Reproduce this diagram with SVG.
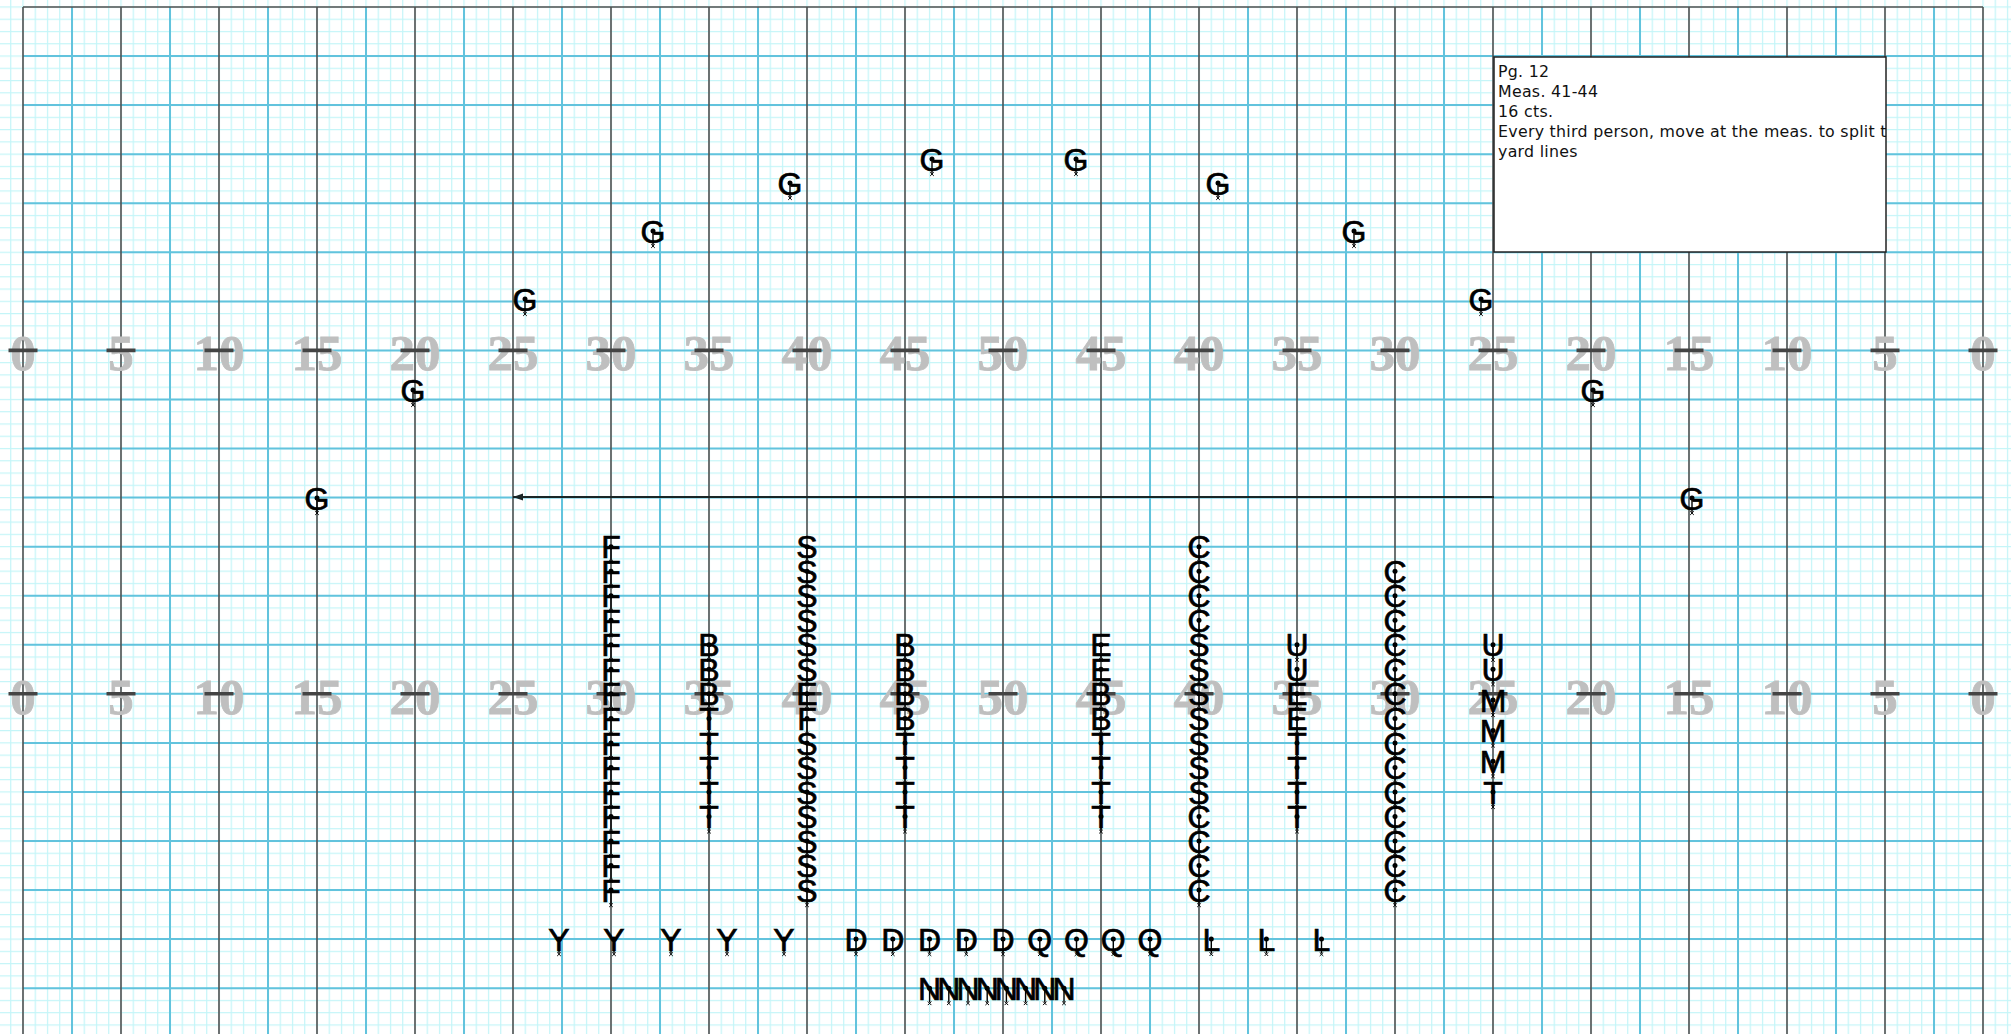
<svg xmlns="http://www.w3.org/2000/svg" xmlns:xlink="http://www.w3.org/1999/xlink" width="2011" height="1034" viewBox="0 0 2011 1034">
<style>
.lt{font-family:"Liberation Sans",Arial,sans-serif;font-size:32px;text-anchor:middle;fill:#000;stroke:#000;stroke-width:0.7}
.yn{font-family:"Liberation Serif","Times New Roman",serif;font-weight:bold;font-size:51px;fill:#bfbfbf;text-anchor:middle;stroke:#bfbfbf;stroke-width:0.8}
.note{font-family:"DejaVu Sans","Liberation Sans",sans-serif;font-size:15.8px;letter-spacing:0.28px;fill:#111}
.yd{stroke:#505050;stroke-width:1.6}
.bl{stroke:#62c3dd;stroke-width:2}
.hash{stroke:#444;stroke-width:3.6}
</style>
<defs>
<pattern id="minor" x="22.4" y="6.4" width="12.25" height="12.265" patternUnits="userSpaceOnUse">
<path d="M0,0.6H12.25M0.6,0V12.265" stroke="#c4f5f8" stroke-width="1.2" fill="none"/>
</pattern>
<g id="pin">
<line x1="0" y1="0" x2="0" y2="14" stroke="#000" stroke-width="1.4"/>
<circle r="2.5" fill="#000"/>
<path d="M-1.8,13.3L1.8,16.9M1.8,13.3L-1.8,16.9" stroke="#000" stroke-width="1"/>
</g>
<marker id="ah" markerWidth="12" markerHeight="8" refX="10" refY="3.5" orient="auto" markerUnits="userSpaceOnUse">
<path d="M0,0L10,3.5L0,7Z" fill="#1a2626"/>
</marker>
<clipPath id="boxclip"><rect x="1494" y="57" width="392" height="195"/></clipPath>
</defs>

<g id="field">
<rect x="0" y="0" width="2011" height="1034" fill="#fff"/>
<rect x="0" y="0" width="2011" height="1034" fill="url(#minor)"/>
<path class="bl" d="M72,7V1034M170,7V1034M268,7V1034M366,7V1034M464,7V1034M562,7V1034M660,7V1034M758,7V1034M856,7V1034M954,7V1034M1052,7V1034M1150,7V1034M1248,7V1034M1346,7V1034M1444,7V1034M1542,7V1034M1640,7V1034M1738,7V1034M1836,7V1034M1934,7V1034"/>
<path class="bl" d="M23,56.1H1983M23,105.1H1983M23,154.2H1983M23,203.2H1983M23,252.3H1983M23,301.4H1983M23,350.4H1983M23,399.5H1983M23,448.5H1983M23,497.6H1983M23,546.7H1983M23,595.7H1983M23,644.8H1983M23,693.8H1983M23,742.9H1983M23,791.9H1983M23,841H1983M23,890.1H1983M23,939.1H1983M23,988.2H1983"/>
<path class="yd" d="M23,7V1034M121,7V1034M219,7V1034M317,7V1034M415,7V1034M513,7V1034M611,7V1034M709,7V1034M807,7V1034M905,7V1034M1003,7V1034M1101,7V1034M1199,7V1034M1297,7V1034M1395,7V1034M1493,7V1034M1591,7V1034M1689,7V1034M1787,7V1034M1885,7V1034M1983,7V1034M23,7H1983"/>
</g>

<g id="yard-numbers">
<text class="yn" x="23" y="370">0</text><text class="yn" x="121" y="370">5</text><text class="yn" x="219" y="370">10</text><text class="yn" x="317" y="370">15</text><text class="yn" x="415" y="370">20</text><text class="yn" x="513" y="370">25</text><text class="yn" x="611" y="370">30</text><text class="yn" x="709" y="370">35</text><text class="yn" x="807" y="370">40</text><text class="yn" x="905" y="370">45</text><text class="yn" x="1003" y="370">50</text><text class="yn" x="1101" y="370">45</text><text class="yn" x="1199" y="370">40</text><text class="yn" x="1297" y="370">35</text><text class="yn" x="1395" y="370">30</text><text class="yn" x="1493" y="370">25</text><text class="yn" x="1591" y="370">20</text><text class="yn" x="1689" y="370">15</text><text class="yn" x="1787" y="370">10</text><text class="yn" x="1885" y="370">5</text><text class="yn" x="1983" y="370">0</text>
<text class="yn" x="23" y="714">0</text><text class="yn" x="121" y="714">5</text><text class="yn" x="219" y="714">10</text><text class="yn" x="317" y="714">15</text><text class="yn" x="415" y="714">20</text><text class="yn" x="513" y="714">25</text><text class="yn" x="611" y="714">30</text><text class="yn" x="709" y="714">35</text><text class="yn" x="807" y="714">40</text><text class="yn" x="905" y="714">45</text><text class="yn" x="1003" y="714">50</text><text class="yn" x="1101" y="714">45</text><text class="yn" x="1199" y="714">40</text><text class="yn" x="1297" y="714">35</text><text class="yn" x="1395" y="714">30</text><text class="yn" x="1493" y="714">25</text><text class="yn" x="1591" y="714">20</text><text class="yn" x="1689" y="714">15</text><text class="yn" x="1787" y="714">10</text><text class="yn" x="1885" y="714">5</text><text class="yn" x="1983" y="714">0</text>
</g>
<g id="hash-marks">
<path class="hash" d="M8.5,350.4h29M106.5,350.4h29M204.5,350.4h29M302.5,350.4h29M400.5,350.4h29M498.5,350.4h29M596.5,350.4h29M694.5,350.4h29M792.5,350.4h29M890.5,350.4h29M988.5,350.4h29M1086.5,350.4h29M1184.5,350.4h29M1282.5,350.4h29M1380.5,350.4h29M1478.5,350.4h29M1576.5,350.4h29M1674.5,350.4h29M1772.5,350.4h29M1870.5,350.4h29M1968.5,350.4h29"/>
<path class="hash" d="M8.5,693.8h29M106.5,693.8h29M204.5,693.8h29M302.5,693.8h29M400.5,693.8h29M498.5,693.8h29M596.5,693.8h29M694.5,693.8h29M792.5,693.8h29M890.5,693.8h29M988.5,693.8h29M1086.5,693.8h29M1184.5,693.8h29M1282.5,693.8h29M1380.5,693.8h29M1478.5,693.8h29M1576.5,693.8h29M1674.5,693.8h29M1772.5,693.8h29M1870.5,693.8h29M1968.5,693.8h29"/>
</g>

<g id="note-box">
<rect x="1494" y="57" width="392" height="195" fill="#fff" stroke="#222" stroke-width="1.5"/>
<g clip-path="url(#boxclip)">
<text class="note" x="1498" y="76.7">Pg. 12</text>
<text class="note" x="1498" y="96.7">Meas. 41-44</text>
<text class="note" x="1498" y="116.7">16 cts.</text>
<text class="note" x="1498" y="136.7">Every third person, move at the meas. to split the</text>
<text class="note" x="1498" y="156.7">yard lines</text>
</g>
</g>

<g id="connectors">
<line x1="1494" y1="497" x2="513" y2="497" stroke="#1a2626" stroke-width="2" marker-end="url(#ah)"/>
</g>

<g id="guard">
<g id="g1" transform="translate(525,299)"><text class="lt" y="11.6">G</text><use href="#pin"/></g>
<g id="g2" transform="translate(653,231)"><text class="lt" y="11.6">G</text><use href="#pin"/></g>
<g id="g3" transform="translate(790,183)"><text class="lt" y="11.6">G</text><use href="#pin"/></g>
<g id="g4" transform="translate(932,159)"><text class="lt" y="11.6">G</text><use href="#pin"/></g>
<g id="g5" transform="translate(1076,159)"><text class="lt" y="11.6">G</text><use href="#pin"/></g>
<g id="g6" transform="translate(1218,183)"><text class="lt" y="11.6">G</text><use href="#pin"/></g>
<g id="g7" transform="translate(1354,231)"><text class="lt" y="11.6">G</text><use href="#pin"/></g>
<g id="g8" transform="translate(1481,299)"><text class="lt" y="11.6">G</text><use href="#pin"/></g>
<g id="g9" transform="translate(413,390)"><text class="lt" y="11.6">G</text><use href="#pin"/></g>
<g id="g10" transform="translate(317,498)"><text class="lt" y="11.6">G</text><use href="#pin"/></g>
<g id="g11" transform="translate(1593,390)"><text class="lt" y="11.6">G</text><use href="#pin"/></g>
<g id="g12" transform="translate(1692,498)"><text class="lt" y="11.6">G</text><use href="#pin"/></g>
</g>

<g id="col-30L">
<g id="f1" transform="translate(611,546.7)"><text class="lt" y="11.6">F</text><use href="#pin"/></g>
<g id="f2" transform="translate(611,571.2)"><text class="lt" y="11.6">F</text><use href="#pin"/></g>
<g id="f3" transform="translate(611,595.7)"><text class="lt" y="11.6">F</text><use href="#pin"/></g>
<g id="f4" transform="translate(611,620.3)"><text class="lt" y="11.6">F</text><use href="#pin"/></g>
<g id="f5" transform="translate(611,644.8)"><text class="lt" y="11.6">F</text><use href="#pin"/></g>
<g id="f6" transform="translate(611,669.3)"><text class="lt" y="11.6">F</text><use href="#pin"/></g>
<g id="f7" transform="translate(611,693.8)"><text class="lt" y="11.6">F</text><use href="#pin"/></g>
<g id="f8" transform="translate(611,718.4)"><text class="lt" y="11.6">F</text><use href="#pin"/></g>
<g id="f9" transform="translate(611,742.9)"><text class="lt" y="11.6">F</text><use href="#pin"/></g>
<g id="f10" transform="translate(611,767.4)"><text class="lt" y="11.6">F</text><use href="#pin"/></g>
<g id="f11" transform="translate(611,792)"><text class="lt" y="11.6">F</text><use href="#pin"/></g>
<g id="f12" transform="translate(611,816.5)"><text class="lt" y="11.6">F</text><use href="#pin"/></g>
<g id="f13" transform="translate(611,841)"><text class="lt" y="11.6">F</text><use href="#pin"/></g>
<g id="f14" transform="translate(611,865.6)"><text class="lt" y="11.6">F</text><use href="#pin"/></g>
<g id="f15" transform="translate(611,890.1)"><text class="lt" y="11.6">F</text><use href="#pin"/></g>
</g>

<g id="col-35L">
<g id="b1" transform="translate(709,644.8)"><text class="lt" y="11.6">B</text><use href="#pin"/></g>
<g id="b2" transform="translate(709,669.3)"><text class="lt" y="11.6">B</text><use href="#pin"/></g>
<g id="b3" transform="translate(709,693.8)"><text class="lt" y="11.6">B</text><use href="#pin"/></g>
<g id="t1" transform="translate(709,718.4)"><text class="lt" y="11.6">T</text><use href="#pin"/></g>
<g id="t2" transform="translate(709,742.9)"><text class="lt" y="11.6">T</text><use href="#pin"/></g>
<g id="t3" transform="translate(709,767.4)"><text class="lt" y="11.6">T</text><use href="#pin"/></g>
<g id="t4" transform="translate(709,792)"><text class="lt" y="11.6">T</text><use href="#pin"/></g>
<g id="t5" transform="translate(709,816.5)"><text class="lt" y="11.6">T</text><use href="#pin"/></g>
</g>

<g id="col-40L">
<g id="s1" transform="translate(807,546.7)"><text class="lt" y="11.6">S</text><use href="#pin"/></g>
<g id="s2" transform="translate(807,571.2)"><text class="lt" y="11.6">S</text><use href="#pin"/></g>
<g id="s3" transform="translate(807,595.7)"><text class="lt" y="11.6">S</text><use href="#pin"/></g>
<g id="s4" transform="translate(807,620.3)"><text class="lt" y="11.6">S</text><use href="#pin"/></g>
<g id="s5" transform="translate(807,644.8)"><text class="lt" y="11.6">S</text><use href="#pin"/></g>
<g id="s6" transform="translate(807,669.3)"><text class="lt" y="11.6">S</text><use href="#pin"/></g>
<g id="e1" transform="translate(807,693.8)"><text class="lt" y="11.6">E</text><use href="#pin"/></g>
<g id="e2" transform="translate(807,718.4)"><text class="lt" y="11.6">F</text><use href="#pin"/></g>
<g id="s7" transform="translate(807,742.9)"><text class="lt" y="11.6">S</text><use href="#pin"/></g>
<g id="s8" transform="translate(807,767.4)"><text class="lt" y="11.6">S</text><use href="#pin"/></g>
<g id="s9" transform="translate(807,792)"><text class="lt" y="11.6">S</text><use href="#pin"/></g>
<g id="s10" transform="translate(807,816.5)"><text class="lt" y="11.6">S</text><use href="#pin"/></g>
<g id="s11" transform="translate(807,841)"><text class="lt" y="11.6">S</text><use href="#pin"/></g>
<g id="s12" transform="translate(807,865.6)"><text class="lt" y="11.6">S</text><use href="#pin"/></g>
<g id="s13" transform="translate(807,890.1)"><text class="lt" y="11.6">S</text><use href="#pin"/></g>
</g>

<g id="col-45L">
<g id="b4" transform="translate(905,644.8)"><text class="lt" y="11.6">B</text><use href="#pin"/></g>
<g id="b5" transform="translate(905,669.3)"><text class="lt" y="11.6">B</text><use href="#pin"/></g>
<g id="b6" transform="translate(905,693.8)"><text class="lt" y="11.6">B</text><use href="#pin"/></g>
<g id="b7" transform="translate(905,718.4)"><text class="lt" y="11.6">B</text><use href="#pin"/></g>
<g id="t6" transform="translate(905,742.9)"><text class="lt" y="11.6">T</text><use href="#pin"/></g>
<g id="t7" transform="translate(905,767.4)"><text class="lt" y="11.6">T</text><use href="#pin"/></g>
<g id="t8" transform="translate(905,792)"><text class="lt" y="11.6">T</text><use href="#pin"/></g>
<g id="t9" transform="translate(905,816.5)"><text class="lt" y="11.6">T</text><use href="#pin"/></g>
</g>

<g id="col-45R">
<g id="e3" transform="translate(1101,644.8)"><text class="lt" y="11.6">E</text><use href="#pin"/></g>
<g id="e4" transform="translate(1101,669.3)"><text class="lt" y="11.6">E</text><use href="#pin"/></g>
<g id="b8" transform="translate(1101,693.8)"><text class="lt" y="11.6">B</text><use href="#pin"/></g>
<g id="b9" transform="translate(1101,718.4)"><text class="lt" y="11.6">B</text><use href="#pin"/></g>
<g id="t10" transform="translate(1101,742.9)"><text class="lt" y="11.6">T</text><use href="#pin"/></g>
<g id="t11" transform="translate(1101,767.4)"><text class="lt" y="11.6">T</text><use href="#pin"/></g>
<g id="t12" transform="translate(1101,792)"><text class="lt" y="11.6">T</text><use href="#pin"/></g>
<g id="t13" transform="translate(1101,816.5)"><text class="lt" y="11.6">T</text><use href="#pin"/></g>
</g>

<g id="col-40R">
<g id="c1" transform="translate(1199,546.7)"><text class="lt" y="11.6">C</text><use href="#pin"/></g>
<g id="c2" transform="translate(1199,571.2)"><text class="lt" y="11.6">C</text><use href="#pin"/></g>
<g id="c3" transform="translate(1199,595.7)"><text class="lt" y="11.6">C</text><use href="#pin"/></g>
<g id="c4" transform="translate(1199,620.3)"><text class="lt" y="11.6">C</text><use href="#pin"/></g>
<g id="s14" transform="translate(1199,644.8)"><text class="lt" y="11.6">S</text><use href="#pin"/></g>
<g id="s15" transform="translate(1199,669.3)"><text class="lt" y="11.6">S</text><use href="#pin"/></g>
<g id="s16" transform="translate(1199,693.8)"><text class="lt" y="11.6">S</text><use href="#pin"/></g>
<g id="s17" transform="translate(1199,718.4)"><text class="lt" y="11.6">S</text><use href="#pin"/></g>
<g id="s18" transform="translate(1199,742.9)"><text class="lt" y="11.6">S</text><use href="#pin"/></g>
<g id="s19" transform="translate(1199,767.4)"><text class="lt" y="11.6">S</text><use href="#pin"/></g>
<g id="s20" transform="translate(1199,792)"><text class="lt" y="11.6">S</text><use href="#pin"/></g>
<g id="c5" transform="translate(1199,816.5)"><text class="lt" y="11.6">C</text><use href="#pin"/></g>
<g id="c6" transform="translate(1199,841)"><text class="lt" y="11.6">C</text><use href="#pin"/></g>
<g id="c7" transform="translate(1199,865.6)"><text class="lt" y="11.6">C</text><use href="#pin"/></g>
<g id="c8" transform="translate(1199,890.1)"><text class="lt" y="11.6">C</text><use href="#pin"/></g>
</g>

<g id="col-35R">
<g id="u1" transform="translate(1297,644.8)"><text class="lt" y="11.6">U</text><use href="#pin"/></g>
<g id="u2" transform="translate(1297,669.3)"><text class="lt" y="11.6">U</text><use href="#pin"/></g>
<g id="e5" transform="translate(1297,693.8)"><text class="lt" y="11.6">E</text><use href="#pin"/></g>
<g id="e6" transform="translate(1297,718.4)"><text class="lt" y="11.6">E</text><use href="#pin"/></g>
<g id="t14" transform="translate(1297,742.9)"><text class="lt" y="11.6">T</text><use href="#pin"/></g>
<g id="t15" transform="translate(1297,767.4)"><text class="lt" y="11.6">T</text><use href="#pin"/></g>
<g id="t16" transform="translate(1297,792)"><text class="lt" y="11.6">T</text><use href="#pin"/></g>
<g id="t17" transform="translate(1297,816.5)"><text class="lt" y="11.6">T</text><use href="#pin"/></g>
</g>

<g id="col-30R">
<g id="c9" transform="translate(1395,571.2)"><text class="lt" y="11.6">C</text><use href="#pin"/></g>
<g id="c10" transform="translate(1395,595.7)"><text class="lt" y="11.6">C</text><use href="#pin"/></g>
<g id="c11" transform="translate(1395,620.3)"><text class="lt" y="11.6">C</text><use href="#pin"/></g>
<g id="c12" transform="translate(1395,644.8)"><text class="lt" y="11.6">C</text><use href="#pin"/></g>
<g id="c13" transform="translate(1395,669.3)"><text class="lt" y="11.6">C</text><use href="#pin"/></g>
<g id="c14" transform="translate(1395,693.8)"><text class="lt" y="11.6">C</text><use href="#pin"/></g>
<g id="c15" transform="translate(1395,718.4)"><text class="lt" y="11.6">C</text><use href="#pin"/></g>
<g id="c16" transform="translate(1395,742.9)"><text class="lt" y="11.6">C</text><use href="#pin"/></g>
<g id="c17" transform="translate(1395,767.4)"><text class="lt" y="11.6">C</text><use href="#pin"/></g>
<g id="c18" transform="translate(1395,792)"><text class="lt" y="11.6">C</text><use href="#pin"/></g>
<g id="c19" transform="translate(1395,816.5)"><text class="lt" y="11.6">C</text><use href="#pin"/></g>
<g id="c20" transform="translate(1395,841)"><text class="lt" y="11.6">C</text><use href="#pin"/></g>
<g id="c21" transform="translate(1395,865.6)"><text class="lt" y="11.6">C</text><use href="#pin"/></g>
<g id="c22" transform="translate(1395,890.1)"><text class="lt" y="11.6">C</text><use href="#pin"/></g>
</g>

<g id="col-25R">
<g id="u3" transform="translate(1493,644.8)"><text class="lt" y="11.6">U</text><use href="#pin"/></g>
<g id="u4" transform="translate(1493,669.3)"><text class="lt" y="11.6">U</text><use href="#pin"/></g>
<g id="m1" transform="translate(1493,700)"><text class="lt" y="11.6">M</text><use href="#pin"/></g>
<g id="m2" transform="translate(1493,730.6)"><text class="lt" y="11.6">M</text><use href="#pin"/></g>
<g id="m3" transform="translate(1493,761.3)"><text class="lt" y="11.6">M</text><use href="#pin"/></g>
<g id="t18" transform="translate(1493,792)"><text class="lt" y="11.6">T</text><use href="#pin"/></g>
</g>

<g id="row-front">
<g id="y1" transform="translate(559,939.1)"><text class="lt" y="11.6">Y</text><use href="#pin"/></g>
<g id="y2" transform="translate(614,939.1)"><text class="lt" y="11.6">Y</text><use href="#pin"/></g>
<g id="y3" transform="translate(671,939.1)"><text class="lt" y="11.6">Y</text><use href="#pin"/></g>
<g id="y4" transform="translate(727,939.1)"><text class="lt" y="11.6">Y</text><use href="#pin"/></g>
<g id="y5" transform="translate(784,939.1)"><text class="lt" y="11.6">Y</text><use href="#pin"/></g>
<g id="d1" transform="translate(856,939.1)"><text class="lt" y="11.6">D</text><use href="#pin"/></g>
<g id="d2" transform="translate(892.8,939.1)"><text class="lt" y="11.6">D</text><use href="#pin"/></g>
<g id="d3" transform="translate(929.5,939.1)"><text class="lt" y="11.6">D</text><use href="#pin"/></g>
<g id="d4" transform="translate(966.3,939.1)"><text class="lt" y="11.6">D</text><use href="#pin"/></g>
<g id="d5" transform="translate(1003,939.1)"><text class="lt" y="11.6">D</text><use href="#pin"/></g>
<g id="q1" transform="translate(1039.8,939.1)"><text class="lt" y="11.6">Q</text><use href="#pin"/></g>
<g id="q2" transform="translate(1076.5,939.1)"><text class="lt" y="11.6">Q</text><use href="#pin"/></g>
<g id="q3" transform="translate(1113.3,939.1)"><text class="lt" y="11.6">Q</text><use href="#pin"/></g>
<g id="q4" transform="translate(1150,939.1)"><text class="lt" y="11.6">Q</text><use href="#pin"/></g>
<g id="l1" transform="translate(1211.3,939.1)"><text class="lt" y="11.6">L</text><use href="#pin"/></g>
<g id="l2" transform="translate(1266.4,939.1)"><text class="lt" y="11.6">L</text><use href="#pin"/></g>
<g id="l3" transform="translate(1321.5,939.1)"><text class="lt" y="11.6">L</text><use href="#pin"/></g>
</g>

<g id="row-n">
<g id="n1" transform="translate(929.6,988.2)"><text class="lt" y="11.6">N</text><use href="#pin"/></g>
<g id="n2" transform="translate(948.8,988.2)"><text class="lt" y="11.6">N</text><use href="#pin"/></g>
<g id="n3" transform="translate(968,988.2)"><text class="lt" y="11.6">N</text><use href="#pin"/></g>
<g id="n4" transform="translate(987.2,988.2)"><text class="lt" y="11.6">N</text><use href="#pin"/></g>
<g id="n5" transform="translate(1006.4,988.2)"><text class="lt" y="11.6">N</text><use href="#pin"/></g>
<g id="n6" transform="translate(1025.6,988.2)"><text class="lt" y="11.6">N</text><use href="#pin"/></g>
<g id="n7" transform="translate(1044.8,988.2)"><text class="lt" y="11.6">N</text><use href="#pin"/></g>
<g id="n8" transform="translate(1064,988.2)"><text class="lt" y="11.6">N</text><use href="#pin"/></g>
</g>
</svg>
